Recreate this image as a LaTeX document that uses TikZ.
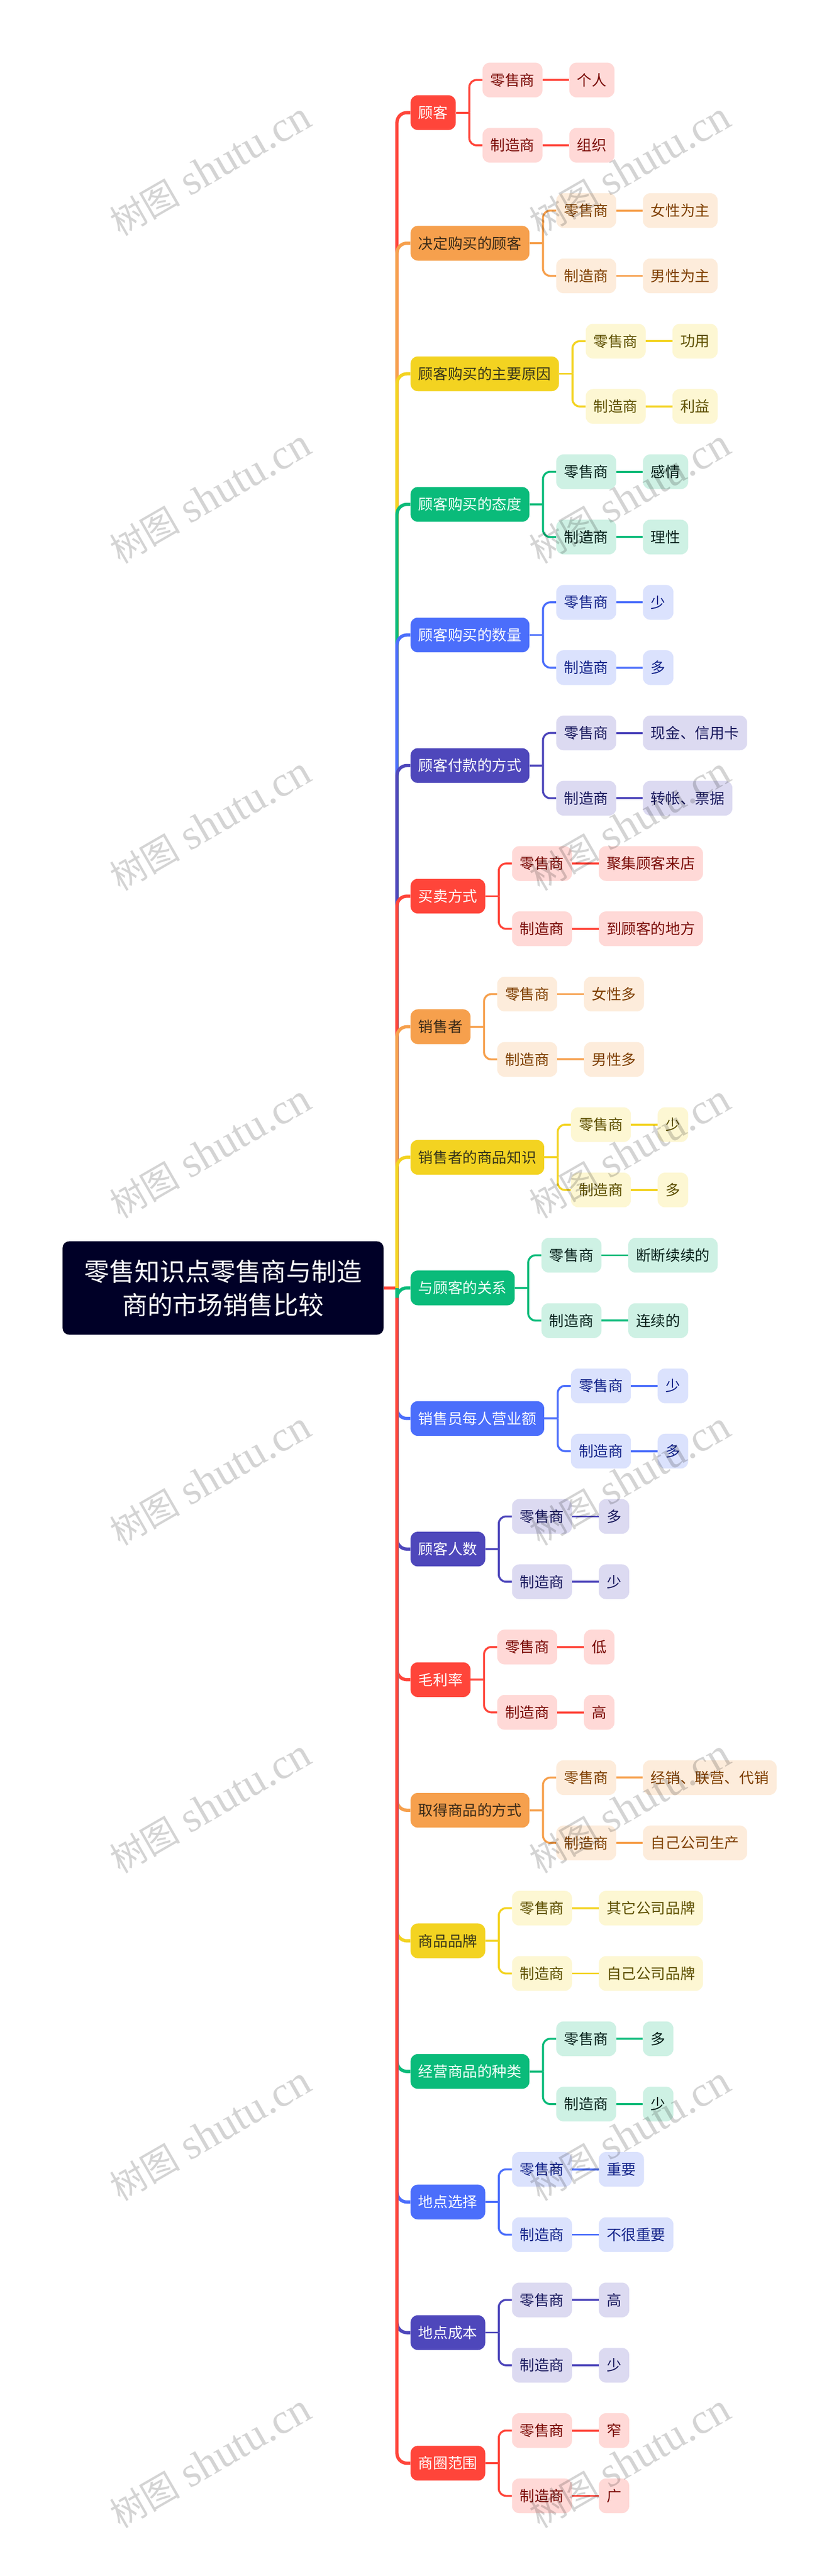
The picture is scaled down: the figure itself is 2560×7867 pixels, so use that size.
\documentclass[tikz,border=0pt]{standalone}
\usepackage{fontspec}
\setmainfont{Noto Sans CJK SC}
\newfontfamily\wmcjk{Noto Sans CJK SC}
\newfontfamily\wmlat{Liberation Serif}
\usetikzlibrary{calc}
\definecolor{m0}{HTML}{FF453A}\definecolor{l0}{HTML}{FFD9D7}\definecolor{h0}{HTML}{FFFFFF}\definecolor{t0}{HTML}{7A0A05}
\definecolor{m1}{HTML}{F6A04D}\definecolor{l1}{HTML}{FDECDB}\definecolor{h1}{HTML}{3A2A18}\definecolor{t1}{HTML}{7F3F00}
\definecolor{m2}{HTML}{F3D321}\definecolor{l2}{HTML}{FDF7D3}\definecolor{h2}{HTML}{38361A}\definecolor{t2}{HTML}{5E5000}
\definecolor{m3}{HTML}{0ABB7A}\definecolor{l3}{HTML}{CEF1E4}\definecolor{h3}{HTML}{F2FFFA}\definecolor{t3}{HTML}{06201A}
\definecolor{m4}{HTML}{4B6EFB}\definecolor{l4}{HTML}{DBE2FD}\definecolor{h4}{HTML}{FFFFFF}\definecolor{t4}{HTML}{14248A}
\definecolor{m5}{HTML}{4E47BB}\definecolor{l5}{HTML}{DCDAF1}\definecolor{h5}{HTML}{FFFFFF}\definecolor{t5}{HTML}{1A1A5E}
\definecolor{rootbg}{HTML}{000027}
\tikzset{
  rootbox/.style={fill=rootbg,text=white,rounded corners=10pt,minimum width=490pt,minimum height=142.5pt,inner sep=0pt,align=center,font=\fontsize{38.5pt}{51pt}\selectfont},
  topicbox/.style={rounded corners=11pt,minimum height=53pt,inner sep=0pt,font=\fontsize{22.5pt}{27pt}\selectfont,anchor=west},
  trunkline/.style={line width=5pt,rounded corners=15pt},
  subline/.style={line width=3pt},
  subbend/.style={line width=3pt,rounded corners=11pt},
  mark text/.style={rotate=30,opacity=.17,text=black,inner sep=0pt}
}
\newcommand\wmtext{{\fontsize{54pt}{60pt}\selectfont\wmcjk 树图}\hspace{15pt}{\fontsize{65pt}{65pt}\selectfont\wmlat shutu.cn}}
% #1 index, #2 palette, #3 title, #4 chars, #5 leaf a, #6 chars, #7 leaf b, #8 chars
\newcommand\mybranch[8]{%
  \pgfmathsetmacro\wa{(45*#4+48)/2}%
  \pgfmathsetmacro\wb{(45*#6+48)/2}%
  \pgfmathsetmacro\wc{(45*#8+48)/2}%
  \pgfmathsetmacro\yy{344+398.8*#1}%
  \node[topicbox,fill=m#2,text=h#2,minimum width=\wa pt] (b#1) at (1253,\yy) {#3};
  \node[topicbox,fill=l#2,text=t#2,minimum width=91.5pt] (b#1a) at ($(b#1.east)+(81,-99.7)$) {零售商};
  \node[topicbox,fill=l#2,text=t#2,minimum width=91.5pt] (b#1b) at ($(b#1.east)+(81,99.7)$) {制造商};
  \node[topicbox,fill=l#2,text=t#2,minimum width=\wb pt] (b#1al) at ($(b#1a.east)+(81,0)$) {#5};
  \node[topicbox,fill=l#2,text=t#2,minimum width=\wc pt] (b#1bl) at ($(b#1b.east)+(81,0)$) {#7};
  \coordinate (j#1) at ($(b#1.east)+(41,0)$);
  \draw[subline,m#2] (b#1.east) -- (j#1);
  \draw[subbend,m#2] (j#1) |- (b#1a.west);
  \draw[subbend,m#2] (j#1) |- (b#1b.west);
  \draw[subline,m#2] (b#1a.east) -- (b#1al.west);
  \draw[subline,m#2] (b#1b.east) -- (b#1bl.west);
}
\begin{document}
\begin{tikzpicture}[x=.5pt,y=-.5pt]
\fill[white] (0,0) rectangle (2560,7867);
\useasboundingbox (0,0) rectangle (2560,7867);
\node[rootbox] (root) at (681,3933.5) {零售知识点零售商与制造\\商的市场销售比较};
\coordinate (rj) at (1212,3933.5);
\mybranch{0}{0}{顾客}{2}{个人}{2}{组织}{2}
\mybranch{1}{1}{决定购买的顾客}{7}{女性为主}{4}{男性为主}{4}
\mybranch{2}{2}{顾客购买的主要原因}{9}{功用}{2}{利益}{2}
\mybranch{3}{3}{顾客购买的态度}{7}{感情}{2}{理性}{2}
\mybranch{4}{4}{顾客购买的数量}{7}{少}{1}{多}{1}
\mybranch{5}{5}{顾客付款的方式}{7}{现金、信用卡}{6}{转帐、票据}{5}
\mybranch{6}{0}{买卖方式}{4}{聚集顾客来店}{6}{到顾客的地方}{6}
\mybranch{7}{1}{销售者}{3}{女性多}{3}{男性多}{3}
\mybranch{8}{2}{销售者的商品知识}{8}{少}{1}{多}{1}
\mybranch{9}{3}{与顾客的关系}{6}{断断续续的}{5}{连续的}{3}
\mybranch{10}{4}{销售员每人营业额}{8}{少}{1}{多}{1}
\mybranch{11}{5}{顾客人数}{4}{多}{1}{少}{1}
\mybranch{12}{0}{毛利率}{3}{低}{1}{高}{1}
\mybranch{13}{1}{取得商品的方式}{7}{经销、联营、代销}{8}{自己公司生产}{6}
\mybranch{14}{2}{商品品牌}{4}{其它公司品牌}{6}{自己公司品牌}{6}
\mybranch{15}{3}{经营商品的种类}{7}{多}{1}{少}{1}
\mybranch{16}{4}{地点选择}{4}{重要}{2}{不很重要}{4}
\mybranch{17}{5}{地点成本}{4}{高}{1}{少}{1}
\mybranch{18}{0}{商圈范围}{4}{窄}{1}{广}{1}
\draw[line width=5pt,m0] (root.east) -- (rj);
\foreach \i/\c in {0/0,1/1,2/2,3/3,4/4,5/5,6/0,7/1,8/2,10/4,11/5,12/0,13/1,14/2,15/3,16/4,17/5,18/0,9/3}
  \draw[trunkline,m\c] (rj) |- (b\i.west);
\foreach \r in {0,...,7}{
  \pgfmathsetmacro\wy{517+1000*\r}
  \node[mark text] (wa\r) at (642,\wy) {\wmtext};
  \node[mark text] (wb\r) at (1923,\wy) {\wmtext};
}
\end{tikzpicture}
\end{document}
